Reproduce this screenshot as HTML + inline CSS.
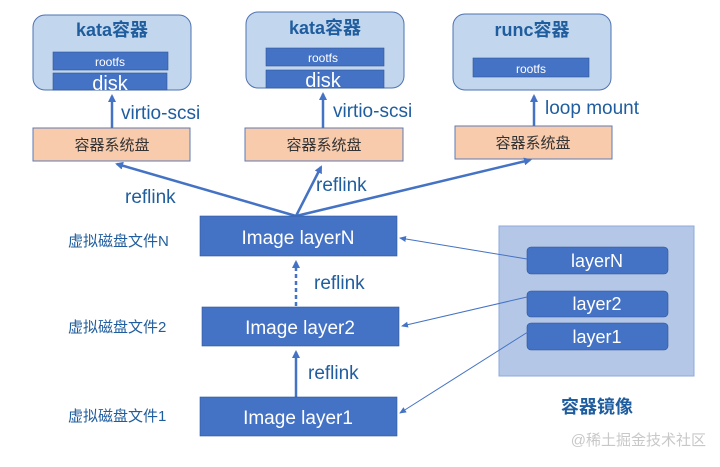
<!DOCTYPE html>
<html><head><meta charset="utf-8"><style>
body{margin:0;background:#fff}
svg text{font-family:"Liberation Sans","Noto Sans CJK SC",sans-serif}
</style></head><body>
<svg width="720" height="462" viewBox="0 0 720 462" xmlns="http://www.w3.org/2000/svg">
<defs>
<marker id="a" markerWidth="8" markerHeight="8" refX="6" refY="4" orient="auto" markerUnits="userSpaceOnUse"><path d="M0,0 L8,4 L0,8 z" fill="#4472c4"/></marker>
<marker id="s" markerWidth="7" markerHeight="7" refX="6" refY="3.5" orient="auto" markerUnits="userSpaceOnUse"><path d="M0,0.5 L7,3.5 L0,6.5 z" fill="#4472c4"/></marker>
</defs>
<rect width="720" height="462" fill="#fff"/>
<g stroke="#4f73b0" stroke-width="1" fill="#c2d7ee">
<rect x="33" y="15" width="158" height="75" rx="12"/>
<rect x="246" y="12" width="158" height="76" rx="12"/>
<rect x="453" y="14" width="158" height="76" rx="12"/>
</g>
<g fill="#4472c4" stroke="#2f5597" stroke-width="0.6">
<rect x="53" y="52" width="115" height="18"/>
<rect x="53" y="73" width="114" height="17"/>
<rect x="266" y="48" width="118" height="18"/>
<rect x="266" y="70" width="118" height="18"/>
<rect x="473" y="58" width="116" height="19"/>
</g>
<g font-weight="bold" fill="#1f5d9e" font-size="18" text-anchor="middle">
<text x="112" y="36">kata容器</text>
<text x="325" y="34">kata容器</text>
<text x="532" y="36">runc容器</text>
</g>
<g fill="#fff" text-anchor="middle">
<text x="110" y="66" font-size="12">rootfs</text>
<text x="110" y="90" font-size="20">disk</text>
<text x="323" y="62" font-size="12">rootfs</text>
<text x="323" y="87" font-size="20">disk</text>
<text x="531" y="73" font-size="12">rootfs</text>
</g>
<g fill="#f8cbad" stroke="#5b7bb5" stroke-width="1">
<rect x="33" y="128" width="157" height="33"/>
<rect x="245" y="128" width="158" height="33"/>
<rect x="455" y="126" width="157" height="33"/>
</g>
<g fill="#333" font-size="15" text-anchor="middle">
<text x="112" y="150">容器系统盘</text>
<text x="324" y="150">容器系统盘</text>
<text x="533" y="148">容器系统盘</text>
</g>
<g stroke="#4472c4" stroke-width="2.5" fill="none">
<line x1="112" y1="128" x2="112" y2="96" marker-end="url(#a)"/>
<line x1="323" y1="128" x2="323" y2="94" marker-end="url(#a)"/>
<line x1="534" y1="126" x2="534" y2="96" marker-end="url(#a)"/>
<line x1="296" y1="216" x2="117" y2="164" marker-end="url(#a)"/>
<line x1="296" y1="216" x2="321" y2="167" marker-end="url(#a)"/>
<line x1="296" y1="216" x2="530" y2="160" marker-end="url(#a)"/>
<line x1="296" y1="306" x2="296" y2="262" stroke-dasharray="4,3" marker-end="url(#a)"/>
<line x1="296" y1="397" x2="296" y2="352" marker-end="url(#a)"/>
</g>
<g fill="#1f5d9e" font-size="19">
<text x="121" y="119">virtio-scsi</text>
<text x="333" y="117">virtio-scsi</text>
<text x="545" y="114">loop mount</text>
<text x="125" y="203">reflink</text>
<text x="316" y="191">reflink</text>
<text x="314" y="289">reflink</text>
<text x="308" y="379">reflink</text>
</g>
<g fill="#4472c4" stroke="#2f5597" stroke-width="0.6">
<rect x="200" y="216" width="197" height="40"/>
<rect x="202" y="307" width="197" height="39"/>
<rect x="200" y="397" width="197" height="39"/>
</g>
<g fill="#fff" font-size="19" text-anchor="middle">
<text x="298" y="244">Image layerN</text>
<text x="300" y="334">Image layer2</text>
<text x="298" y="424">Image layer1</text>
</g>
<g fill="#1f5d9e" font-size="15">
<text x="68" y="246">虚拟磁盘文件N</text>
<text x="68" y="332">虚拟磁盘文件2</text>
<text x="68" y="421">虚拟磁盘文件1</text>
</g>
<rect x="499" y="226" width="195" height="150" fill="#b4c7e7" stroke="#8faadc" stroke-width="1"/>
<g fill="#4472c4" stroke="#2f5597" stroke-width="0.6">
<rect x="527" y="247" width="141" height="27" rx="4"/>
<rect x="527" y="291" width="141" height="26" rx="4"/>
<rect x="527" y="323" width="141" height="27" rx="4"/>
</g>
<g fill="#fff" font-size="18" text-anchor="middle">
<text x="597" y="267">layerN</text>
<text x="597" y="310">layer2</text>
<text x="597" y="343">layer1</text>
</g>
<g stroke="#4472c4" stroke-width="1" fill="none">
<line x1="527" y1="259" x2="400" y2="238" marker-end="url(#s)"/>
<line x1="527" y1="297" x2="402" y2="326" marker-end="url(#s)"/>
<line x1="531" y1="330" x2="400" y2="413" marker-end="url(#s)"/>
</g>
<text x="597" y="413" font-size="18" font-weight="bold" fill="#1f5d9e" text-anchor="middle">容器镜像</text>
<text x="706" y="445" font-size="15" fill="#c8c8c8" text-anchor="end">@稀土掘金技术社区</text>
</svg>
</body></html>
